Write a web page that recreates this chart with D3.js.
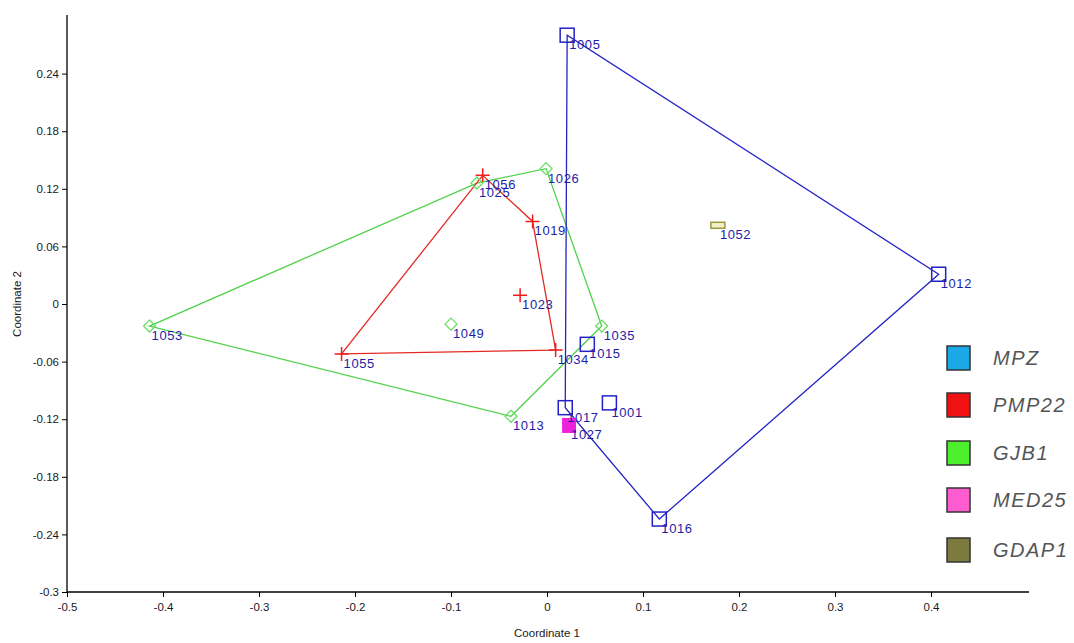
<!DOCTYPE html>
<html><head><meta charset="utf-8">
<script src="https://cdn.jsdelivr.net/npm/d3@7"></script>
<style>body{margin:0;background:#fff}svg{display:block}</style>
</head><body>
<script>
// ---- data ----
const groups = ["MPZ","PMP22","GJB1","MED25","GDAP1"];
const pointIds    = ["1005","1012","1016","1017","1015","1001","1056","1019","1023","1055","1034","1053","1025","1026","1035","1013","1049","1027","1052"];
const pointGroups = ["MPZ","MPZ","MPZ","MPZ","MPZ","MPZ","PMP22","PMP22","PMP22","PMP22","PMP22","GJB1","GJB1","GJB1","GJB1","GJB1","GJB1","MED25","GDAP1"];
const coord1 = [0.021,0.408,0.117,0.019,0.042,0.065,-0.067,-0.015,-0.028,-0.214,0.009,-0.414,-0.073,-0.001,0.057,-0.0375,-0.100,0.023,0.178];
const coord2 = [0.280,0.031,-0.224,-0.108,-0.042,-0.103,0.134,0.086,0.009,-0.052,-0.048,-0.023,0.126,0.141,-0.023,-0.117,-0.021,-0.126,0.082];
const xTicks = [-0.5,-0.4,-0.3,-0.2,-0.1,0,0.1,0.2,0.3,0.4];
const yTicks = [-0.3,-0.24,-0.18,-0.12,-0.06,0,0.06,0.12,0.18,0.24];
const xLabel = "Coordinate 1", yLabel = "Coordinate 2";

// ---- styles ----
const W = 1074, H = 643;
const lineColor = {MPZ:"#2424c4", PMP22:"#e42a24", GJB1:"#4fd24a"};
const legendColor = {MPZ:"#1ba8e6", PMP22:"#f01212", GJB1:"#4ef02e", MED25:"#ff5ccf", GDAP1:"#7d7a40"};
const FONT = "Arial, 'Liberation Sans', sans-serif";

const svg = d3.select("body").append("svg").attr("width",W).attr("height",H);
const x = d3.scaleLinear().domain([-0.5,0.5]).range([67,1027]);
const y = d3.scaleLinear().domain([-0.3,0.3]).range([592,16]);

const pts = pointIds.map((id,i)=>({id, g:pointGroups[i], x:coord1[i], y:coord2[i]}));

// axes
const xa = svg.append("g").attr("transform",`translate(0,${y(-0.3)})`)
  .call(d3.axisBottom(x).tickValues(xTicks).tickSize(5).tickSizeOuter(0).tickFormat(d=>String(+d.toFixed(2))));
const ya = svg.append("g").attr("transform",`translate(${x(-0.5)},0)`)
  .call(d3.axisLeft(y).tickValues(yTicks).tickSize(5).tickSizeOuter(0).tickFormat(d=>String(+d.toFixed(2))));
[xa,ya].forEach(a=>{
  a.select(".domain").attr("stroke","#000").attr("stroke-width",1.3);
  a.selectAll(".tick line").attr("stroke","#000");
  a.selectAll(".tick text").attr("font-family",FONT).attr("font-size",11.5).attr("fill","#1a1a1a");
});
xa.select(".domain").attr("d",`M${x(-0.5)},0H${x(0.5)+2}`);
ya.select(".domain").attr("d",`M0,${y(-0.3)}V${y(0.3)-1}`);
xa.selectAll(".tick text").attr("dy","0.95em");

svg.append("text").attr("x",x(0)).attr("y",637).attr("text-anchor","middle")
  .attr("font-family",FONT).attr("font-size",11.5).attr("fill","#1a1a1a").text(xLabel);
svg.append("text").attr("transform",`translate(21,${y(0)}) rotate(-90)`).attr("text-anchor","middle")
  .attr("font-family",FONT).attr("font-size",11.5).attr("fill","#1a1a1a").text(yLabel);

// hulls
["GJB1","PMP22","MPZ"].forEach(g=>{
  const hull = d3.polygonHull(pts.filter(p=>p.g===g).map(p=>[x(p.x),y(p.y)]));
  svg.append("path").attr("d","M"+hull.join("L")+"Z").attr("fill","none")
    .attr("stroke",lineColor[g]).attr("stroke-width",1.3);
});

// markers
pts.forEach(p=>{
  const cx = x(p.x), cy = y(p.y);
  if(p.g==="MPZ"){
    svg.append("rect").attr("x",cx-7).attr("y",cy-7).attr("width",14).attr("height",14)
      .attr("fill","none").attr("stroke","#2222c8").attr("stroke-width",1.5);
  } else if(p.g==="PMP22"){
    svg.append("path").attr("d",`M${cx-7},${cy}H${cx+7}M${cx},${cy-7}V${cy+7}`)
      .attr("stroke","#f01c1c").attr("stroke-width",1.5);
  } else if(p.g==="GJB1"){
    svg.append("path").attr("d",`M${cx},${cy-6}L${cx+6},${cy}L${cx},${cy+6}L${cx-6},${cy}Z`)
      .attr("fill","none").attr("stroke","#6add66").attr("stroke-width",1.3);
  } else if(p.g==="MED25"){
    svg.append("rect").attr("x",cx-7).attr("y",cy-7).attr("width",14).attr("height",15)
      .attr("fill","#ee22dd");
  } else if(p.g==="GDAP1"){
    svg.append("rect").attr("x",cx-7).attr("y",cy-3).attr("width",14).attr("height",6)
      .attr("fill","#f2f0c8").attr("stroke","#9a9840").attr("stroke-width",1.5);
  }
});

// point labels
svg.append("g").selectAll("text").data(pts).join("text")
  .attr("x",p=>x(p.x)+2).attr("y",p=>y(p.y)+14)
  .attr("font-family",FONT).attr("font-size",13)
  .attr("letter-spacing","0.6px").attr("fill","#1d1da8").text(p=>p.id);

// legend
const legY = [358,405,453,500,550];
const leg = svg.append("g");
groups.forEach((g,i)=>{
  leg.append("rect").attr("x",947).attr("y",legY[i]-12).attr("width",23).attr("height",24)
    .attr("fill",legendColor[g]).attr("stroke","#333").attr("stroke-width",1.5);
  leg.append("text").attr("x",993).attr("y",legY[i]).attr("dy","0.36em")
    .attr("font-family",FONT).attr("font-size",20)
    .attr("font-style","italic").attr("letter-spacing","1.5px").attr("fill","#555").text(g);
});
</script>
</body></html>
